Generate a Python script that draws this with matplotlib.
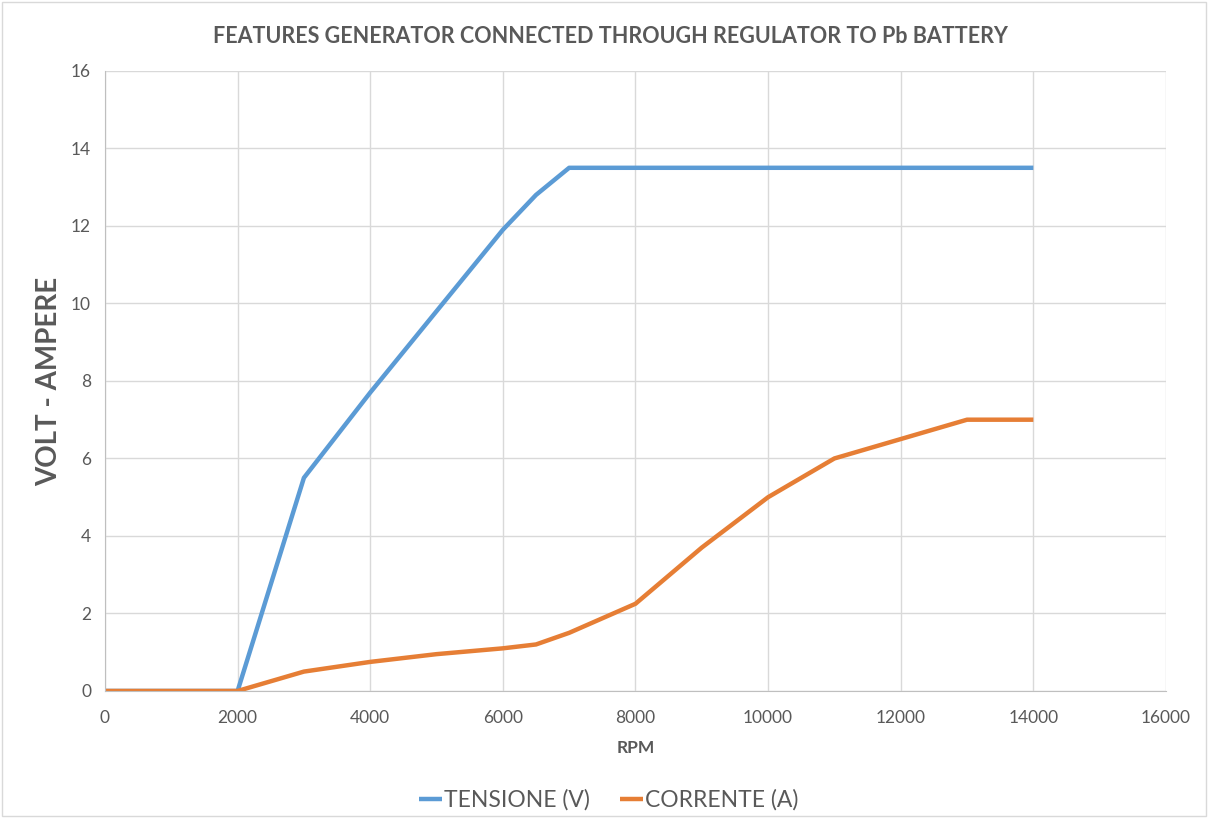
import matplotlib.pyplot as plt

# dati
rpm = [0, 2000, 3000, 4000, 5000, 6000, 6500, 7000, 8000, 9000, 10000, 11000, 12000, 13000, 14000]
tensione = [0, 0, 5.5, 7.7, 9.8, 11.9, 12.8, 13.5, 13.5, 13.5, 13.5, 13.5, 13.5, 13.5, 13.5]
corrente = [0, 0, 0.5, 0.75, 0.95, 1.1, 1.2, 1.5, 2.25, 3.7, 5.0, 6.0, 6.5, 7.0, 7.0]

plt.rcParams['font.family'] = ['Lato', 'DejaVu Sans']
grigio = '#595959'

fig = plt.figure(figsize=(12.08, 8.18), dpi=100)
ax = fig.add_axes([0.0869, 0.1553, 0.8783, 0.758])

ax.plot(rpm, tensione, color='#5B9BD5', linewidth=3.2, label='TENSIONE (V)', solid_capstyle='butt')
ax.plot(rpm, corrente, color='#E67E35', linewidth=3.2, label='CORRENTE (A)', solid_capstyle='butt')

ax.set_xlim(0, 16000)
ax.set_ylim(0, 16)
ax.set_xticks(range(0, 16001, 2000))
ax.set_yticks(range(0, 17, 2))
ax.grid(True, color='#d9d9d9', linewidth=1)
ax.set_axisbelow(True)
for s in ['top', 'right']:
    ax.spines[s].set_visible(False)
for s in ['left', 'bottom']:
    ax.spines[s].set_color('#bfbfbf')
ax.tick_params(length=0, labelsize=12.5, colors=grigio)
ax.tick_params(axis='x', pad=14)
ax.tick_params(axis='y', pad=10)

fig.suptitle('FEATURES GENERATOR CONNECTED THROUGH REGULATOR TO Pb BATTERY',
             x=0.505, y=0.968, fontsize=15.5, fontweight='bold', color=grigio)
ax.set_xlabel('RPM', fontsize=12.5, fontweight='bold', color=grigio, labelpad=10)
ax.set_ylabel('VOLT - AMPERE', fontsize=20, fontweight='bold', color=grigio, labelpad=6)

ax.legend(loc='upper center', bbox_to_anchor=(0.475, -0.125), ncol=2, frameon=False,
          fontsize=16.5, labelcolor=grigio, handlelength=1.0, handletextpad=0.1, columnspacing=1.3)

# bordo della figura
fig.patches.append(plt.Rectangle((0.002, 0.002), 0.996, 0.996, transform=fig.transFigure,
                                 fill=False, edgecolor='#d9d9d9', linewidth=1))

plt.savefig('out.png', dpi=100)
